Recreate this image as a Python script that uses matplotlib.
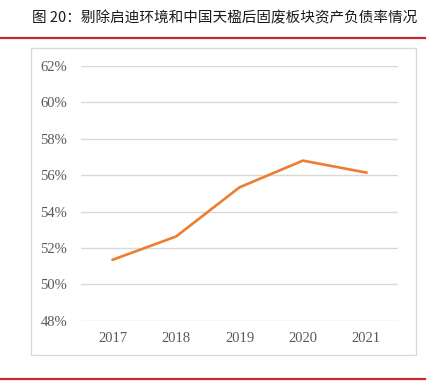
import numpy as np
import matplotlib.pyplot as plt
from matplotlib.lines import Line2D
from matplotlib.patches import Rectangle

# 数据
years = ["2017", "2018", "2019", "2020", "2021"]
ratio = [51.35, 52.63, 55.33, 56.80, 56.14]   # 资产负债率 (%)
yticks = [48, 50, 52, 54, 56, 58, 60, 62]

title = "图 20：剔除启迪环境和中国天楹后固废板块资产负债率情况"

W, H = 436, 387
fig = plt.figure(figsize=(W / 100, H / 100), dpi=100)

# 标题
fig.text(32 / W, 1 - 18 / H, title, fontsize=10.5, color="#1a1a1a",
         family=["Noto Sans CJK SC", "DejaVu Sans"], va="center", ha="left")

# 上下红线
fig.add_artist(Line2D([0, 425 / W], [1 - 38 / H, 1 - 38 / H], color="#C8282D", lw=1.6))
fig.add_artist(Line2D([0, 425 / W], [1 - 379 / H, 1 - 379 / H], color="#C8282D", lw=1.6))

# 图表外框
fig.add_artist(Rectangle((31 / W, 1 - 355 / H), (416 - 31) / W, (355 - 48) / H,
                         fill=False, ec="#D9D9D9", lw=1.0))

# 绘图区
ax = fig.add_axes([81 / W, 1 - 320.7 / H, (398 - 81) / W, (320.7 - 66) / H])
x = np.arange(len(years))
ax.plot(x, ratio, color="#ED7D31", lw=1.9)

ax.set_xlim(-0.5, len(years) - 0.5)
ax.set_ylim(48, 62)
ax.grid(axis="y", color="#D9D9D9", lw=1.0)
ax.set_axisbelow(True)
for s in ax.spines.values():
    s.set_visible(False)
ax.tick_params(length=0, colors="#595959")
ax.tick_params(axis="x", pad=8)
ax.tick_params(axis="y", pad=10)

ax.set_xticks(x)
ax.set_xticklabels(years, family="Liberation Serif", fontsize=10.5)
ax.set_yticks(yticks)
ax.set_yticklabels([f"{v}%" for v in yticks], family="Liberation Serif", fontsize=10.5)

fig.savefig("out.png", dpi=100)
